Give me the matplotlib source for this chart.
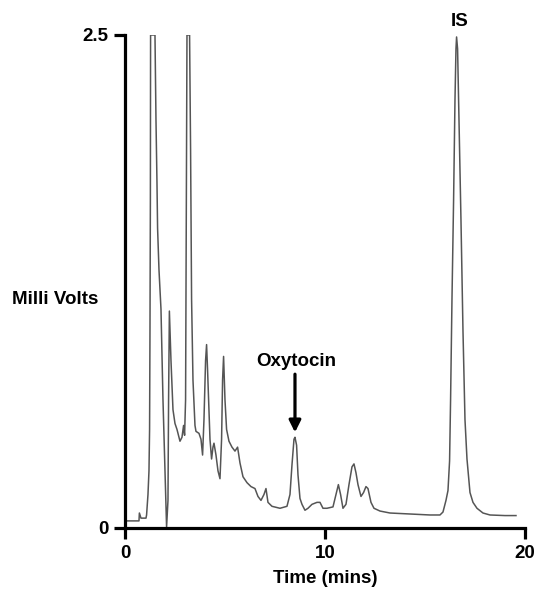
import matplotlib.pyplot as plt

# chromatogram trace (time in mins, signal in milli volts)
time_min = [0.00, 0.70, 0.72, 0.80, 1.05, 1.08, 1.15, 1.20, 1.23, 1.25, 1.27, 1.28, 1.50,
            1.55, 1.60, 1.63, 1.70, 1.80, 1.90, 2.00, 2.08, 2.15, 2.18, 2.22, 2.25, 2.30,
            2.35, 2.40, 2.50, 2.60, 2.75, 2.85, 2.93, 2.98, 3.03, 3.05, 3.08, 3.10, 3.23,
            3.28, 3.33, 3.40, 3.50, 3.55, 3.70, 3.80, 3.88, 3.95, 4.03, 4.08, 4.13, 4.18,
            4.25, 4.33, 4.40, 4.45, 4.55, 4.65, 4.75, 4.83, 4.88, 4.93, 5.00, 5.08, 5.20,
            5.35, 5.50, 5.63, 5.75, 5.90, 6.10, 6.30, 6.50, 6.65, 6.80, 6.95, 7.05, 7.15,
            7.35, 7.75, 8.10, 8.25, 8.35, 8.45, 8.50, 8.58, 8.65, 8.75, 8.85, 9.00, 9.15,
            9.35, 9.60, 9.75, 9.90, 10.10, 10.40, 10.55, 10.67, 10.78, 10.90, 11.05, 11.20,
            11.35, 11.45, 11.55, 11.65, 11.80, 11.93, 12.05, 12.15, 12.30, 12.45, 12.75,
            13.25, 14.25, 15.25, 15.75, 15.90, 16.05, 16.15, 16.23, 16.28, 16.35, 16.43,
            16.50, 16.55, 16.58, 16.63, 16.70, 16.80, 16.90, 17.00, 17.10, 17.25, 17.40,
            17.60, 17.90, 18.25, 19.00, 19.55]
signal_mv = [0.036, 0.036, 0.076, 0.050, 0.050, 0.066, 0.17, 0.29, 0.50, 1.00, 1.66, 2.50, 2.50,
             2.07, 1.75, 1.52, 1.31, 1.11, 0.65, 0.29, 0.005, 0.14, 0.65, 1.10, 1.00, 0.85,
             0.73, 0.60, 0.53, 0.50, 0.44, 0.46, 0.52, 0.47, 0.65, 1.16, 1.92, 2.50, 2.50,
             1.92, 1.16, 0.75, 0.52, 0.49, 0.48, 0.45, 0.37, 0.55, 0.85, 0.93, 0.80, 0.65,
             0.45, 0.35, 0.41, 0.43, 0.37, 0.29, 0.25, 0.45, 0.75, 0.87, 0.65, 0.50, 0.44,
             0.41, 0.39, 0.41, 0.33, 0.26, 0.23, 0.21, 0.20, 0.16, 0.14, 0.17, 0.20, 0.13,
             0.11, 0.10, 0.11, 0.17, 0.32, 0.45, 0.46, 0.42, 0.27, 0.15, 0.12, 0.09, 0.10,
             0.12, 0.13, 0.13, 0.10, 0.10, 0.107, 0.17, 0.22, 0.17, 0.10, 0.12, 0.22,
             0.31, 0.325, 0.28, 0.22, 0.16, 0.18, 0.21, 0.20, 0.13, 0.10, 0.086,
             0.076, 0.071, 0.066, 0.066, 0.081, 0.14, 0.19, 0.34, 0.65, 1.16, 1.66,
             2.17, 2.43, 2.49, 2.43, 2.07, 1.56, 1.00, 0.55, 0.35, 0.18, 0.13,
             0.10, 0.076, 0.066, 0.063, 0.063]

x_ticks = [0, 10, 20]
y_ticks = [0, 2.5]
y_tick_labels = ["0", "2.5"]

oxytocin_time = 8.5
oxytocin_peak = 0.46
is_time = 16.58
is_peak = 2.49

plt.rcParams['font.family'] = ['Liberation Sans', 'DejaVu Sans']
plt.rcParams['font.weight'] = 'bold'

fig = plt.figure(figsize=(5.46, 5.96), dpi=100)
ax = fig.add_axes([0.2289, 0.1141, 0.7326, 0.8272])

ax.plot(time_min, signal_mv, color='#555555', linewidth=1.1)

ax.set_xlim(0, 20)
ax.set_ylim(0, 2.5)
ax.set_xticks(x_ticks)
ax.set_yticks(y_ticks)
ax.set_yticklabels(y_tick_labels)

for side in ['top', 'right']:
    ax.spines[side].set_visible(False)
for side in ['left', 'bottom']:
    ax.spines[side].set_linewidth(2.3)
ax.tick_params(direction='out', length=8, width=2.3, labelsize=13.5, pad=4)
for lab in ax.get_xticklabels() + ax.get_yticklabels():
    lab.set_fontweight('bold')

ax.set_xlabel("Time (mins)", fontsize=13.5, fontweight='bold', labelpad=6)
fig.text(0.022, 0.498, "Milli Volts", fontsize=13.5, fontweight='bold',
         ha='left', va='center')

# peak labels
ax.text(is_time + 0.17, is_peak + 0.035, "IS", fontsize=13.5, fontweight='bold',
        ha='center', va='bottom')
ax.text(oxytocin_time + 0.05, oxytocin_peak + 0.34, "Oxytocin", fontsize=13.5,
        fontweight='bold', ha='center', va='bottom')
ax.annotate('', xy=(oxytocin_time, oxytocin_peak + 0.025),
            xytext=(oxytocin_time, oxytocin_peak + 0.32),
            arrowprops=dict(arrowstyle='-|>,head_length=0.7,head_width=0.35',
                            color='black', lw=2.3, shrinkA=0, shrinkB=0))

fig.savefig("out.png", dpi=100)
